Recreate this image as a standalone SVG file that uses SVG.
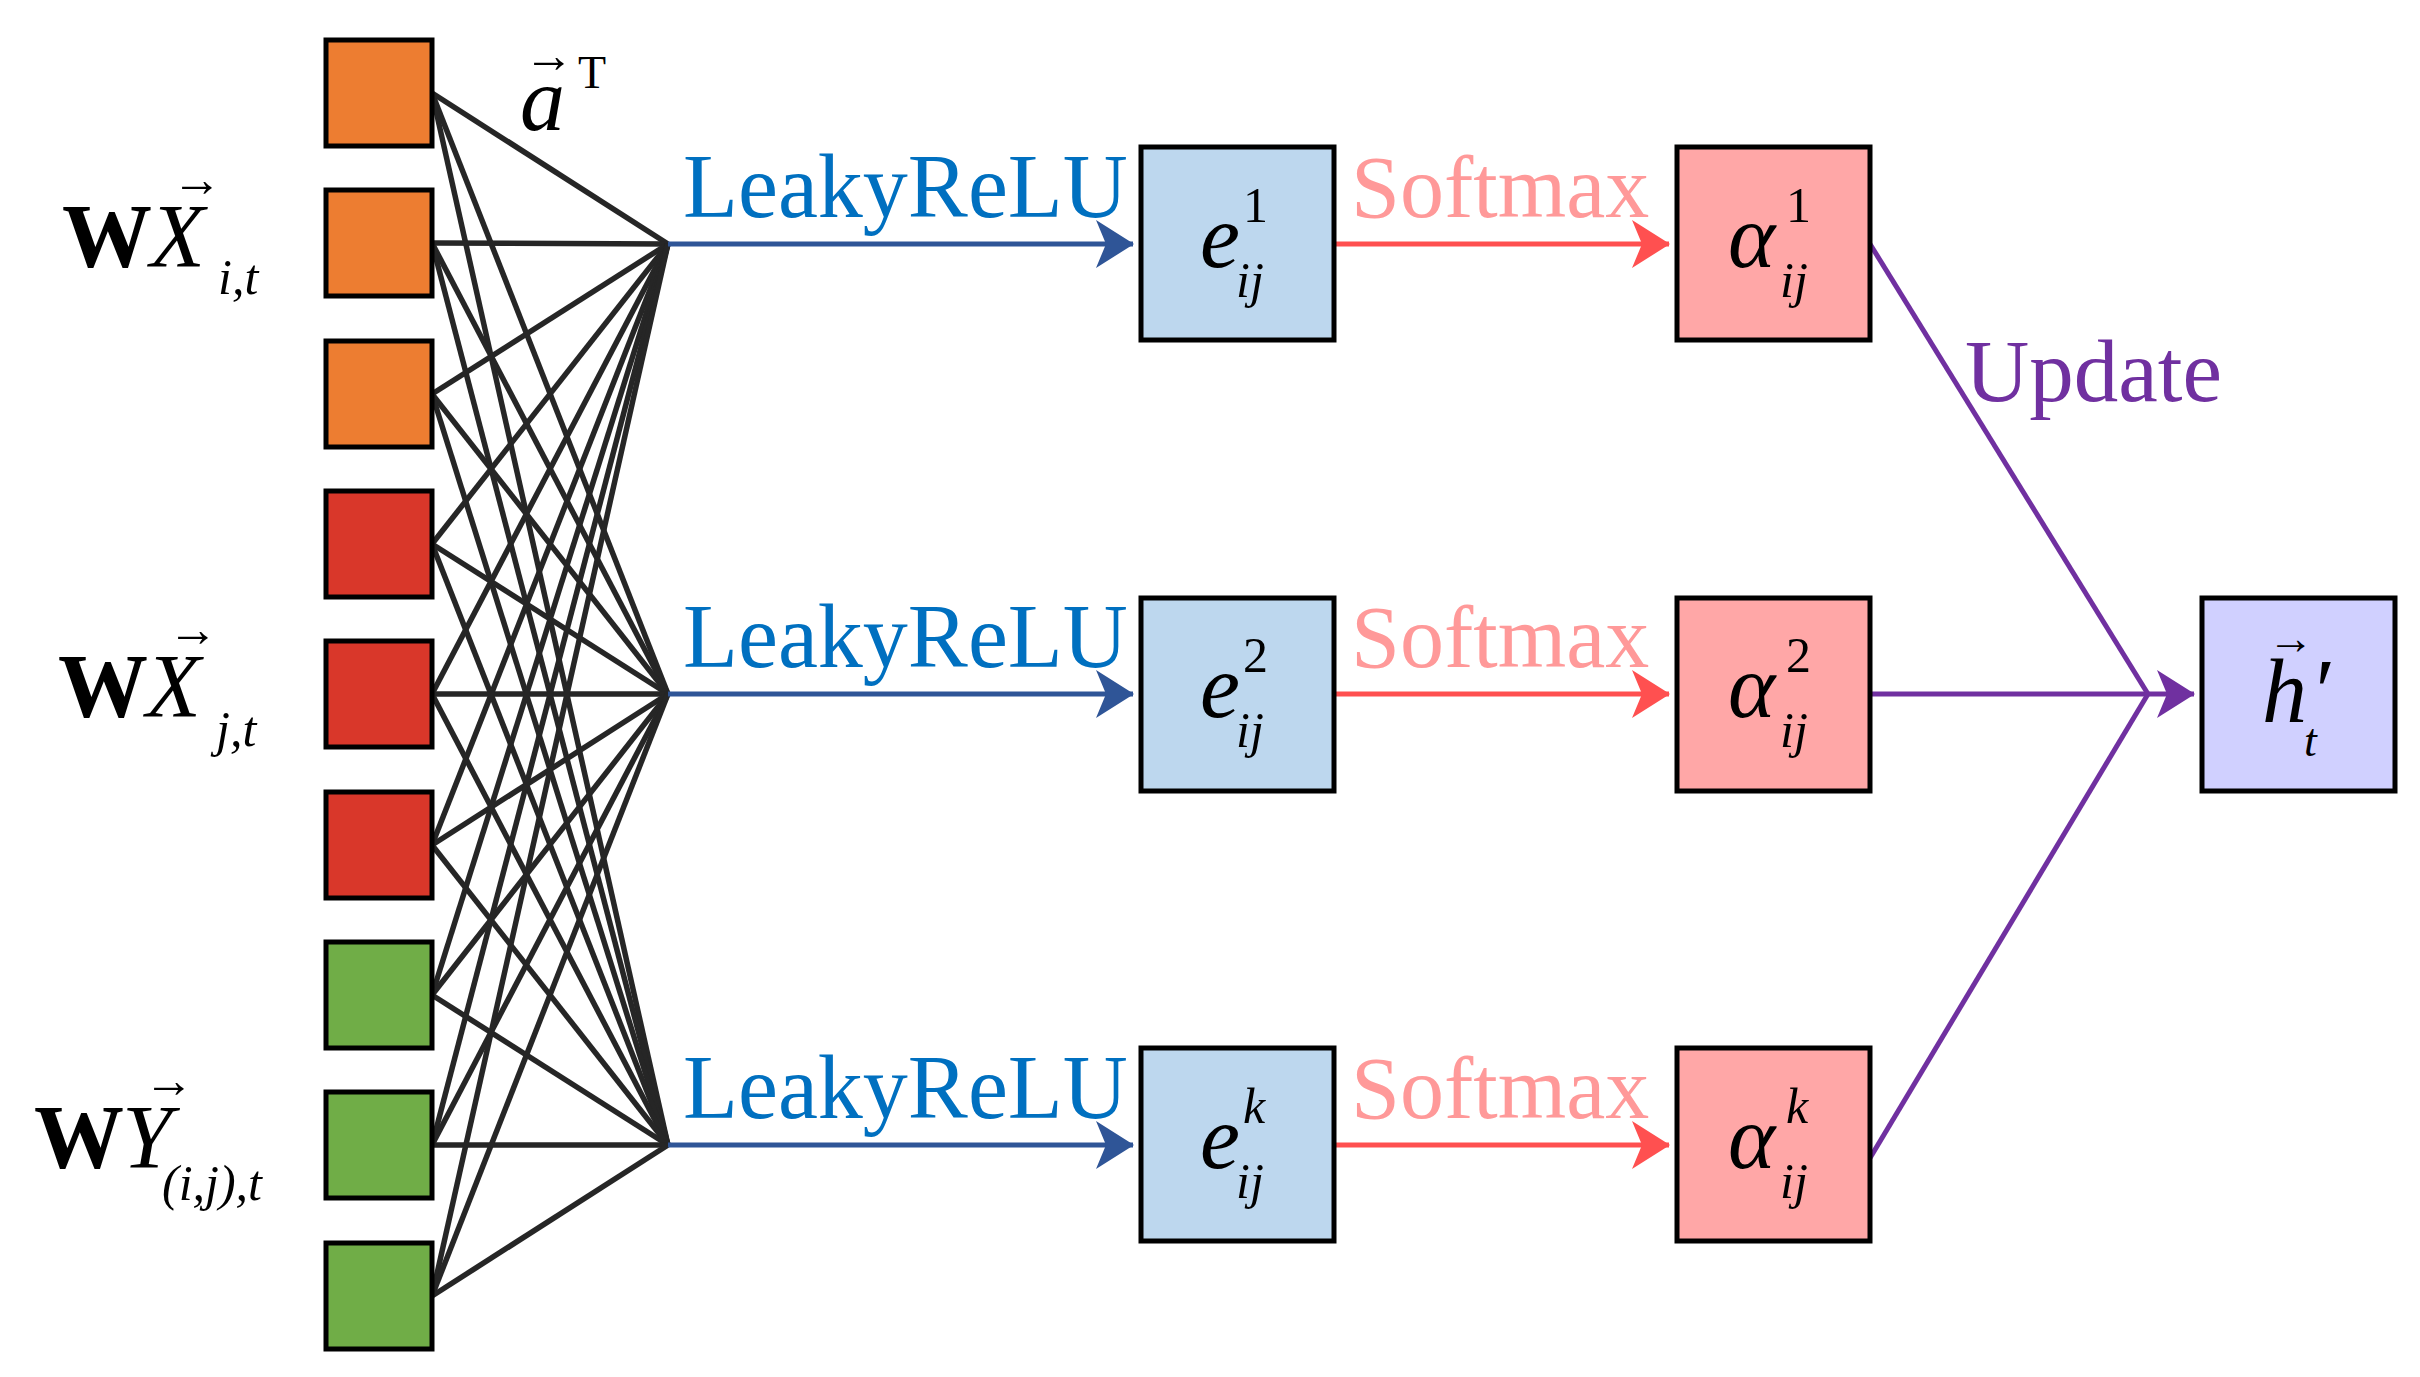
<svg xmlns="http://www.w3.org/2000/svg" width="2420" height="1377" viewBox="0 0 2420 1377">
<style>
.sq{stroke:#000;stroke-width:5}
.bx{stroke:#000;stroke-width:5}
.t{font-family:"Liberation Serif","Times New Roman",serif}
.i{font-style:italic}
.fan line{stroke:#262626;stroke-width:5.5}
</style>
<defs>
<marker id="mb" markerWidth="8" markerHeight="8" refX="7" refY="4" orient="auto" markerUnits="userSpaceOnUse" viewBox="0 0 8 8" style="overflow:visible"><path d="M-30,-20 L8,4 L-30,28 L-20,4 Z" fill="#2F5597"/></marker>
<marker id="mr" markerWidth="8" markerHeight="8" refX="7" refY="4" orient="auto" markerUnits="userSpaceOnUse" viewBox="0 0 8 8" style="overflow:visible"><path d="M-30,-20 L8,4 L-30,28 L-20,4 Z" fill="#FF5050"/></marker>
<marker id="mp" markerWidth="8" markerHeight="8" refX="7" refY="4" orient="auto" markerUnits="userSpaceOnUse" viewBox="0 0 8 8" style="overflow:visible"><path d="M-30,-20 L8,4 L-30,28 L-20,4 Z" fill="#7030A0"/></marker>
</defs>
<g id="connectors">
<g class="fan" id="edges">
<line x1="432" y1="93" x2="668" y2="244"/><line x1="432" y1="93" x2="668" y2="694"/><line x1="432" y1="93" x2="668" y2="1145"/>
<line x1="432" y1="243" x2="668" y2="244"/><line x1="432" y1="243" x2="668" y2="694"/><line x1="432" y1="243" x2="668" y2="1145"/>
<line x1="432" y1="394" x2="668" y2="244"/><line x1="432" y1="394" x2="668" y2="694"/><line x1="432" y1="394" x2="668" y2="1145"/>
<line x1="432" y1="544" x2="668" y2="244"/><line x1="432" y1="544" x2="668" y2="694"/><line x1="432" y1="544" x2="668" y2="1145"/>
<line x1="432" y1="694" x2="668" y2="244"/><line x1="432" y1="694" x2="668" y2="694"/><line x1="432" y1="694" x2="668" y2="1145"/>
<line x1="432" y1="845" x2="668" y2="244"/><line x1="432" y1="845" x2="668" y2="694"/><line x1="432" y1="845" x2="668" y2="1145"/>
<line x1="432" y1="995" x2="668" y2="244"/><line x1="432" y1="995" x2="668" y2="694"/><line x1="432" y1="995" x2="668" y2="1145"/>
<line x1="432" y1="1145" x2="668" y2="244"/><line x1="432" y1="1145" x2="668" y2="694"/><line x1="432" y1="1145" x2="668" y2="1145"/>
<line x1="432" y1="1296" x2="668" y2="244"/><line x1="432" y1="1296" x2="668" y2="694"/><line x1="432" y1="1296" x2="668" y2="1145"/>
</g>
<g stroke="#2F5597" stroke-width="5">
<line x1="668" y1="244" x2="1133" y2="244" marker-end="url(#mb)"/>
<line x1="668" y1="694" x2="1133" y2="694" marker-end="url(#mb)"/>
<line x1="668" y1="1145" x2="1133" y2="1145" marker-end="url(#mb)"/>
</g>
<g stroke="#FF5050" stroke-width="5">
<line x1="1334" y1="244" x2="1669" y2="244" marker-end="url(#mr)"/>
<line x1="1334" y1="694" x2="1669" y2="694" marker-end="url(#mr)"/>
<line x1="1334" y1="1145" x2="1669" y2="1145" marker-end="url(#mr)"/>
</g>
<g stroke="#7030A0" stroke-width="5" fill="none">
<polyline points="1870,244 2148,694"/>
<polyline points="1870,1158 2148,694"/>
<line x1="1870" y1="694" x2="2194" y2="694" marker-end="url(#mp)"/>
</g>
</g>
<g id="inputs">
<rect class="sq" x="326" y="40" width="106" height="106" fill="#ED7D31"/>
<rect class="sq" x="326" y="190" width="106" height="106" fill="#ED7D31"/>
<rect class="sq" x="326" y="341" width="106" height="106" fill="#ED7D31"/>
<rect class="sq" x="326" y="491" width="106" height="106" fill="#D9372A"/>
<rect class="sq" x="326" y="641" width="106" height="106" fill="#D9372A"/>
<rect class="sq" x="326" y="792" width="106" height="106" fill="#D9372A"/>
<rect class="sq" x="326" y="942" width="106" height="106" fill="#70AD47"/>
<rect class="sq" x="326" y="1092" width="106" height="106" fill="#70AD47"/>
<rect class="sq" x="326" y="1243" width="106" height="106" fill="#70AD47"/>
</g>
<g id="labels-left" class="t">
<text x="62" y="267" font-size="90" font-weight="bold">W</text>
<text x="150" y="267" font-size="90" class="i">X</text>
<text x="172" y="196" font-size="50">→</text>
<text x="218" y="294" font-size="50" class="i">i,t</text>
<text x="58" y="717" font-size="90" font-weight="bold">W</text>
<text x="146" y="717" font-size="90" class="i">X</text>
<text x="168" y="646" font-size="50">→</text>
<text x="216" y="746" font-size="50" class="i">j,t</text>
<text x="34" y="1168" font-size="90" font-weight="bold">W</text>
<text x="122" y="1168" font-size="90" class="i">Y</text>
<text x="144" y="1097" font-size="50">→</text>
<text x="162" y="1200" font-size="50" class="i">(i,j),t</text>
<text x="520" y="130" font-size="90" class="i">a</text>
<text x="524" y="72" font-size="50">→</text>
<text x="578" y="88" font-size="46">T</text>
</g>
<g id="edge-labels" class="t">
<text x="683" y="217" font-size="90" fill="#0070C0">LeakyReLU</text>
<text x="683" y="667" font-size="90" fill="#0070C0">LeakyReLU</text>
<text x="683" y="1118" font-size="90" fill="#0070C0">LeakyReLU</text>
<text x="1351" y="217" font-size="88" fill="#FF9999">Softmax</text>
<text x="1351" y="667" font-size="88" fill="#FF9999">Softmax</text>
<text x="1351" y="1118" font-size="88" fill="#FF9999">Softmax</text>
<text x="1965" y="401" font-size="89" fill="#7030A0">Update</text>
</g>
<g id="e1"><rect class="bx" x="1141" y="147" width="193" height="193" fill="#BDD7EE"/><text class="t i" x="1200" y="267" font-size="90">e</text><text class="t" x="1243" y="222" font-size="50">1</text><text class="t i" x="1236" y="297" font-size="50">ij</text></g>
<g id="e2"><rect class="bx" x="1141" y="598" width="193" height="193" fill="#BDD7EE"/><text class="t i" x="1200" y="717" font-size="90">e</text><text class="t" x="1243" y="672" font-size="50">2</text><text class="t i" x="1236" y="747" font-size="50">ij</text></g>
<g id="e3"><rect class="bx" x="1141" y="1048" width="193" height="193" fill="#BDD7EE"/><text class="t i" x="1200" y="1168" font-size="90">e</text><text class="t i" x="1243" y="1123" font-size="50">k</text><text class="t i" x="1236" y="1198" font-size="50">ij</text></g>
<g id="a1"><rect class="bx" x="1677" y="147" width="193" height="193" fill="#FFA7A7"/><text class="t i" x="1728" y="267" font-size="90">α</text><text class="t" x="1786" y="222" font-size="50">1</text><text class="t i" x="1780" y="297" font-size="50">ij</text></g>
<g id="a2"><rect class="bx" x="1677" y="598" width="193" height="193" fill="#FFA7A7"/><text class="t i" x="1728" y="717" font-size="90">α</text><text class="t" x="1786" y="672" font-size="50">2</text><text class="t i" x="1780" y="747" font-size="50">ij</text></g>
<g id="a3"><rect class="bx" x="1677" y="1048" width="193" height="193" fill="#FFA7A7"/><text class="t i" x="1728" y="1168" font-size="90">α</text><text class="t i" x="1786" y="1123" font-size="50">k</text><text class="t i" x="1780" y="1198" font-size="50">ij</text></g>
<g id="h"><rect class="bx" x="2202" y="598" width="193" height="193" fill="#D0D0FF"/><text class="t i" x="2262" y="722" font-size="90">h</text><text class="t i" x="2310" y="722" font-size="90">′</text><text class="t" x="2268" y="654" font-size="46">→</text><text class="t i" x="2304" y="756" font-size="46">t</text></g>
</svg>
